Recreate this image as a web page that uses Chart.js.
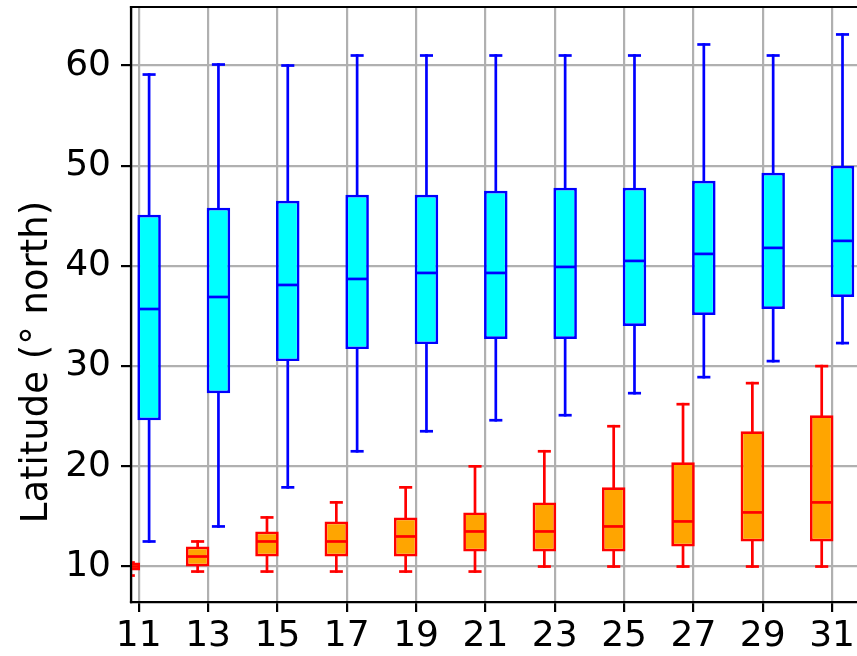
<!DOCTYPE html>
<html>
<head>
<meta charset="utf-8">
<script src="https://cdn.jsdelivr.net/npm/chart.js@4.4.1/dist/chart.umd.min.js"></script>
<style>
    body { margin: 0; background: #fff; }
    canvas { display: block; }
</style>
</head>
<body>
<canvas id="latitude" width="857" height="656"></canvas>
<script>
// years / groups on the x axis
const groups = [11, 13, 15, 17, 19, 21, 23, 25, 27, 29, 31];
const xTicks = [11, 13, 15, 17, 19, 21, 23, 25, 27, 29, 31];
const yTicks = [10, 20, 30, 40, 50, 60];

// cyan boxes (northern limit)
const northMin = [12.5, 14.0, 17.9, 21.5, 23.5, 24.6, 25.1, 27.3, 28.9, 30.5, 32.3];
const northQ1 = [24.6, 27.3, 30.5, 31.7, 32.2, 32.7, 32.7, 34.0, 35.1, 35.7, 36.9];
const northMed = [35.7, 36.9, 38.1, 38.7, 39.3, 39.3, 39.9, 40.5, 41.2, 41.8, 42.5];
const northQ3 = [45.1, 45.8, 46.5, 47.1, 47.1, 47.5, 47.8, 47.8, 48.5, 49.3, 50.0];
const northMax = [59.1, 60.1, 60.0, 61.0, 61.0, 61.0, 61.0, 61.0, 62.1, 61.0, 63.1];

// orange boxes (southern limit)
const southMin = [9.1, 9.5, 9.5, 9.5, 9.5, 9.5, 10.0, 10.0, 10.0, 10.0, 10.0];
const southQ1 = [9.6, 10.0, 11.0, 11.0, 11.0, 11.5, 11.5, 11.5, 12.0, 12.5, 12.5];
const southMed = [10.0, 11.0, 12.5, 12.5, 13.0, 13.5, 13.5, 14.0, 14.5, 15.4, 16.4];
const southQ3 = [10.4, 12.0, 13.5, 14.5, 14.9, 15.4, 16.4, 17.9, 20.4, 23.5, 25.1];
const southMax = [10.4, 12.5, 14.9, 16.4, 17.9, 20.0, 21.5, 24.0, 26.2, 28.3, 30.0];

const boxWidth = 0.6;
const lineW = 2.7;

const series = [
    { shift: -0.3, fill: "#ffa500", edge: "#ff0000", min: southMin, q1: southQ1, med: southMed, q3: southQ3, max: southMax },
    { shift: 0.3, fill: "#00ffff", edge: "#0000ff", min: northMin, q1: northQ1, med: northMed, q3: northQ3, max: northMax },
];

const tickFont = { family: "DejaVu Sans", size: 36 };

// whiskers, caps, medians and the frame
const boxPlugin = {
    id: "boxWhiskers",
    afterDatasetsDraw: (chart) => {
        const { ctx, chartArea, scales } = chart;
        const x = scales.x;
        const y = scales.y;
        const line = (x1, y1, x2, y2) => {
            ctx.beginPath();
            ctx.moveTo(x1, y1);
            ctx.lineTo(x2, y2);
            ctx.stroke();
        };
        ctx.save();
        ctx.beginPath();
        ctx.rect(chartArea.left, chartArea.top, chartArea.width, chartArea.height);
        ctx.clip();
        ctx.lineWidth = lineW;
        ctx.lineCap = "square";
        series.forEach((s) => {
            ctx.strokeStyle = s.edge;
            groups.forEach((g, i) => {
                const c = g + s.shift;
                const px = x.getPixelForValue(c);
                const capL = x.getPixelForValue(c - boxWidth / 4);
                const capR = x.getPixelForValue(c + boxWidth / 4);
                const boxL = x.getPixelForValue(c - boxWidth / 2);
                const boxR = x.getPixelForValue(c + boxWidth / 2);
                if (s.max[i] > s.q3[i]) {
                    line(px, y.getPixelForValue(s.q3[i]), px, y.getPixelForValue(s.max[i]));
                }
                if (s.min[i] < s.q1[i]) {
                    line(px, y.getPixelForValue(s.q1[i]), px, y.getPixelForValue(s.min[i]));
                }
                line(capL, y.getPixelForValue(s.max[i]), capR, y.getPixelForValue(s.max[i]));
                line(capL, y.getPixelForValue(s.min[i]), capR, y.getPixelForValue(s.min[i]));
                ctx.lineCap = "butt";
                line(boxL, y.getPixelForValue(s.med[i]), boxR, y.getPixelForValue(s.med[i]));
                ctx.lineCap = "square";
            });
        });
        ctx.restore();

        // spines
        ctx.save();
        ctx.strokeStyle = "#000";
        ctx.lineWidth = 2.2;
        ctx.lineCap = "square";
        line(chartArea.left, chartArea.top, chartArea.right + 2, chartArea.top);
        line(chartArea.left, chartArea.top, chartArea.left, chartArea.bottom);
        line(chartArea.left, chartArea.bottom, chartArea.right + 2, chartArea.bottom);
        ctx.restore();

        // y axis label
        ctx.save();
        ctx.fillStyle = "#000";
        ctx.font = "37px 'DejaVu Sans'";
        ctx.textAlign = "center";
        ctx.textBaseline = "alphabetic";
        ctx.translate(47, 362);
        ctx.rotate(-Math.PI / 2);
        ctx.fillText("Latitude (\u00b0 north)", 0, 0);
        ctx.restore();
    },
};

const ctx = document.getElementById("latitude").getContext("2d");

const data = {
    datasets: series.map((s) => ({
        data: groups.map((g, i) => ({ x: g + s.shift, y: [s.q1[i], s.q3[i]] })),
        backgroundColor: s.fill,
        borderColor: s.edge,
        borderWidth: lineW,
        borderSkipped: false,
        grouped: false,
        categoryPercentage: 1,
        barPercentage: 1.13,
        clip: 0,
    })),
};

const options = {
    responsive: false,
    devicePixelRatio: 1,
    animation: false,
    layout: { padding: { top: 7, left: 0, right: 0, bottom: 0 } },
    plugins: { legend: { display: false }, tooltip: { enabled: false } },
    scales: {
        x: {
            type: "linear",
            min: 10.778,
            max: 31.718,
            offset: false,
            grid: { offset: false, color: "#b0b0b0", lineWidth: 2.2, tickLength: 10, tickColor: "#000", tickWidth: 2.2 },
            border: { color: "#000", width: 2.2 },
            ticks: { font: tickFont, color: "#000", padding: 3, maxRotation: 0, autoSkip: false },
            afterBuildTicks: (scale) => {
                scale.ticks = xTicks.map((v) => ({ value: v }));
            },
            afterFit: (scale) => {
                scale.height = 54;
                scale.paddingLeft = 0;
                scale.paddingRight = 0;
            },
        },
        y: {
            min: 6.46,
            max: 65.84,
            grid: { color: "#b0b0b0", lineWidth: 2.2, tickLength: 10, tickColor: "#000", tickWidth: 2.2 },
            border: { color: "#000", width: 2.2 },
            ticks: { font: tickFont, color: "#000", padding: 10 },
            afterBuildTicks: (scale) => {
                scale.ticks = yTicks.map((v) => ({ value: v }));
            },
            afterFit: (scale) => {
                scale.width = 131;
                scale.paddingTop = 0;
                scale.paddingBottom = 0;
            },
        },
    },
};

let myChart = new Chart(ctx, {
    type: "bar",
    data: data,
    options: options,
    plugins: [boxPlugin],
});
</script>
</body>
</html>
